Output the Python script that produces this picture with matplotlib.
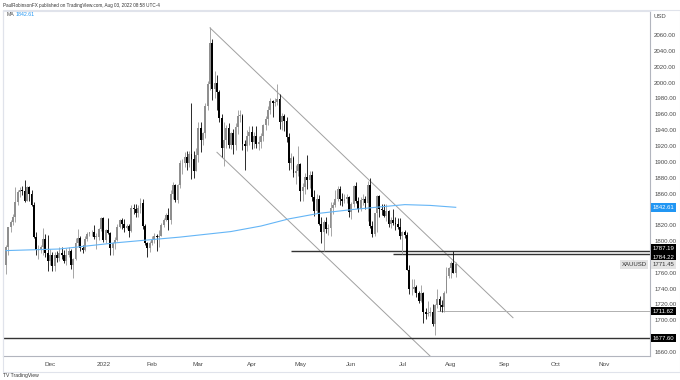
import numpy as np
import pandas as pd
import matplotlib
matplotlib.use("Agg")
import matplotlib.pyplot as plt
from matplotlib.patches import Rectangle

# XAUUSD daily candles (open, high, low, close)
nov21 = [(1770, 1795, 1759, 1792), (1792, 1818, 1782, 1818), (1818, 1827, 1811, 1824),
         (1824, 1834, 1820, 1831), (1831, 1868, 1824, 1849), (1849, 1864, 1845, 1862),
         (1862, 1868, 1855, 1865), (1865, 1870, 1858, 1863), (1863, 1877, 1849, 1851),
         (1851, 1870, 1850, 1868), (1868, 1869, 1851, 1860), (1860, 1864, 1844, 1846),
         (1846, 1849, 1804, 1805), (1805, 1812, 1782, 1789), (1789, 1795, 1778, 1789),
         (1789, 1795, 1785, 1792), (1792, 1816, 1782, 1802), (1802, 1809, 1780, 1785),
         (1785, 1808, 1762, 1775)]
dec21 = [(1775, 1790, 1770, 1782), (1782, 1786, 1762, 1769), (1769, 1786, 1762, 1783),
         (1783, 1788, 1774, 1779), (1779, 1793, 1775, 1785), (1785, 1793, 1777, 1783),
         (1783, 1789, 1772, 1775), (1775, 1791, 1770, 1782), (1782, 1792, 1780, 1787),
         (1787, 1790, 1765, 1770), (1770, 1779, 1753, 1778), (1778, 1804, 1776, 1798),
         (1798, 1815, 1794, 1804), (1804, 1806, 1788, 1791), (1791, 1795, 1785, 1789),
         (1789, 1806, 1787, 1803), (1803, 1812, 1800, 1809), (1809, 1812, 1807, 1811),
         (1811, 1814, 1806, 1811), (1811, 1820, 1803, 1805), (1805, 1810, 1790, 1805),
         (1805, 1817, 1801, 1815), (1815, 1830, 1813, 1829)]
jan22 = [(1829, 1831, 1799, 1801), (1801, 1815, 1798, 1814), (1814, 1829, 1809, 1810),
         (1810, 1811, 1783, 1791), (1791, 1799, 1782, 1797), (1797, 1805, 1790, 1801),
         (1801, 1822, 1800, 1818), (1818, 1828, 1816, 1826), (1826, 1829, 1815, 1821),
         (1821, 1828, 1812, 1817), (1817, 1822, 1815, 1819), (1819, 1822, 1805, 1813),
         (1813, 1845, 1812, 1842), (1842, 1847, 1834, 1840), (1840, 1847, 1831, 1835),
         (1835, 1845, 1830, 1842), (1842, 1854, 1835, 1848), (1848, 1853, 1815, 1819),
         (1819, 1822, 1795, 1797), (1797, 1799, 1780, 1791), (1791, 1800, 1786, 1797)]
feb22 = [(1797, 1807, 1795, 1801), (1801, 1810, 1797, 1807), (1807, 1809, 1788, 1805),
         (1805, 1814, 1793, 1807), (1807, 1823, 1806, 1820), (1820, 1829, 1818, 1826),
         (1826, 1836, 1825, 1833), (1833, 1842, 1814, 1827), (1827, 1865, 1822, 1859),
         (1859, 1874, 1853, 1871), (1871, 1872, 1849, 1852), (1852, 1872, 1848, 1871),
         (1871, 1902, 1867, 1898), (1898, 1903, 1885, 1898), (1898, 1913, 1894, 1906),
         (1906, 1914, 1890, 1898), (1898, 1914, 1893, 1910), (1910, 1974, 1878, 1903),
         (1903, 1914, 1879, 1889), (1889, 1917, 1888, 1909)]
mar22 = [(1909, 1950, 1900, 1943), (1943, 1950, 1913, 1928), (1928, 1937, 1921, 1936),
         (1936, 1974, 1930, 1970), (1970, 2002, 1966, 1998), (1998, 2070, 1990, 2050),
         (2050, 2055, 1978, 1992), (1992, 2015, 1981, 2000), (2000, 2009, 1966, 1988),
         (1988, 1990, 1950, 1955), (1955, 1960, 1906, 1918), (1918, 1950, 1895, 1927),
         (1927, 1947, 1918, 1943), (1943, 1949, 1917, 1921), (1921, 1938, 1916, 1936),
         (1936, 1942, 1910, 1921), (1921, 1949, 1915, 1944), (1944, 1966, 1935, 1958),
         (1958, 1966, 1950, 1958), (1958, 1960, 1915, 1923), (1923, 1927, 1890, 1920),
         (1920, 1940, 1914, 1933), (1933, 1945, 1921, 1937)]
apr22 = [(1937, 1945, 1916, 1925), (1925, 1937, 1917, 1932), (1932, 1945, 1918, 1923),
         (1923, 1933, 1915, 1925), (1925, 1936, 1918, 1932), (1932, 1948, 1926, 1946),
         (1946, 1958, 1940, 1954), (1954, 1971, 1947, 1966), (1966, 1981, 1960, 1977),
         (1977, 1978, 1956, 1974), (1974, 1980, 1970, 1975), (1975, 1998, 1972, 1979),
         (1979, 1986, 1941, 1950), (1950, 1961, 1940, 1958), (1958, 1960, 1939, 1951),
         (1951, 1957, 1925, 1931), (1931, 1936, 1890, 1898), (1898, 1911, 1891, 1905),
         (1905, 1907, 1881, 1886), (1886, 1896, 1872, 1889), (1889, 1920, 1882, 1897)]
may22 = [(1897, 1899, 1850, 1863), (1863, 1873, 1850, 1868), (1868, 1886, 1860, 1881),
         (1881, 1909, 1866, 1877), (1877, 1889, 1867, 1884), (1884, 1888, 1851, 1855),
         (1855, 1865, 1832, 1838), (1838, 1859, 1836, 1853), (1853, 1858, 1820, 1822),
         (1822, 1830, 1798, 1811), (1811, 1827, 1787, 1824), (1824, 1830, 1810, 1815),
         (1815, 1822, 1808, 1816), (1816, 1849, 1807, 1842), (1842, 1849, 1834, 1846),
         (1846, 1865, 1843, 1853), (1853, 1870, 1850, 1866), (1866, 1869, 1845, 1853),
         (1853, 1861, 1844, 1851), (1851, 1860, 1848, 1853), (1853, 1860, 1848, 1855),
         (1855, 1857, 1831, 1837)]
jun22 = [(1837, 1849, 1828, 1847), (1847, 1871, 1843, 1869), (1869, 1874, 1848, 1851),
         (1851, 1855, 1837, 1841), (1841, 1856, 1838, 1852), (1852, 1860, 1846, 1853),
         (1853, 1857, 1841, 1848), (1848, 1876, 1825, 1871), (1871, 1879, 1816, 1819),
         (1819, 1825, 1805, 1809), (1809, 1836, 1807, 1835), (1835, 1858, 1812, 1857),
         (1857, 1858, 1830, 1840), (1840, 1847, 1833, 1839), (1839, 1847, 1830, 1832),
         (1832, 1847, 1825, 1838), (1838, 1839, 1818, 1822), (1822, 1830, 1816, 1827),
         (1827, 1840, 1820, 1823), (1823, 1830, 1814, 1821), (1821, 1829, 1815, 1818),
         (1818, 1829, 1802, 1807)]
jul22 = [(1807, 1813, 1784, 1811), (1811, 1814, 1804, 1808), (1808, 1812, 1763, 1764),
         (1764, 1770, 1733, 1739), (1739, 1752, 1732, 1740), (1740, 1752, 1736, 1742),
         (1742, 1745, 1730, 1734), (1734, 1737, 1722, 1725), (1725, 1745, 1723, 1735),
         (1735, 1736, 1697, 1711), (1711, 1716, 1702, 1708), (1708, 1724, 1706, 1709),
         (1709, 1717, 1705, 1711), (1711, 1721, 1693, 1696), (1696, 1720, 1681, 1719),
         (1719, 1739, 1715, 1727), (1727, 1731, 1712, 1719), (1719, 1726, 1711, 1717),
         (1717, 1737, 1711, 1735), (1735, 1767, 1734, 1756), (1756, 1767, 1753, 1766)]
aug22 = [(1766, 1775, 1754, 1772), (1772, 1788, 1760, 1760), (1760, 1774, 1755, 1771.45)]

# 200-day moving average, read at a few bar positions
ma_bar = [0, 23, 48, 75, 97, 110, 122, 135, 150, 161, 172, 183, 194]
ma_val = [1788, 1790, 1798, 1805, 1812, 1819, 1828, 1835, 1840, 1843, 1846, 1845, 1842.61]

# drawn trendlines (bar index, price)
upper_bar = [88, 218.7]
upper_px = [2069, 1703.3]
lower_bar = [91, 184]
lower_px = [1912, 1652]

# horizontal levels and the bar where each one starts
levels = [1787.19, 1784.22, 1711.62, 1677.60]
level_start = [123, 167, 186, -2]

# price-axis labels that stay visible (the rest sit under the value tags)
yticks = [1660, 1700, 1720, 1740, 1760, 1800, 1820, 1860, 1880, 1900, 1920,
          1940, 1960, 1980, 2000, 2020, 2040, 2060]

bars = nov21 + dec21 + jan22 + feb22 + mar22 + apr22 + may22 + jun22 + jul22 + aug22
o, h, l, c = np.array(bars, dtype=float).T
n = len(bars)
idx = np.arange(n)
dates = pd.bdate_range("2021-11-04", periods=n + 90)

W, H = 680, 380
X0, X1 = -1.3, 277.8
Y0, Y1 = 1655.0, 2090.3

plt.rcParams["font.family"] = ["Liberation Sans", "DejaVu Sans"]
fig = plt.figure(figsize=(W / 100, H / 100), dpi=100)
fig.patch.set_facecolor("white")
ax = fig.add_axes([3 / W, 1 - 356 / H, 647 / W, 345 / H])
ax.set_xlim(X0, X1)
ax.set_ylim(Y0, Y1)

# outer frame of the chart widget
fig.add_artist(Rectangle((3 / W, 1 - 372 / H), 677 / W, 362 / H, transform=fig.transFigure,
                         fill=False, ec="#e0e3eb", lw=0.8))

up = c >= o
down = ~up
ax.vlines(idx[up], l[up], h[up], color="#a0a0a0", lw=0.65, zorder=2)
ax.vlines(idx[down], l[down], h[down], color="#1a1a1a", lw=0.65, zorder=2)
body_lo = np.minimum(o, c)
body_h = np.maximum(np.abs(c - o), 0.9)
ax.bar(idx[up], body_h[up], bottom=body_lo[up], width=0.8, color="#8f8f8f", lw=0, zorder=3)
ax.bar(idx[down], body_h[down], bottom=body_lo[down], width=0.8, color="#000000", lw=0, zorder=3)

ax.plot(ma_bar, ma_val, color="#64b5f6", lw=0.8, zorder=4)

ax.plot(upper_bar, upper_px, color="#a0a0a0", lw=0.7, zorder=1)
ax.plot(lower_bar, lower_px, color="#a0a0a0", lw=0.7, zorder=1)

for lv, st in zip(levels, level_start):
    if lv == 1711.62:
        ax.hlines(lv, st, X1, color="#b0b0b0", lw=0.7, zorder=1)
    else:
        ax.hlines(lv, st, X1, color="#333333", lw=1.0, zorder=1)

# axes styling
for side in ["top", "left"]:
    ax.spines[side].set_color("#e0e3eb")
    ax.spines[side].set_linewidth(0.8)
for side in ["right", "bottom"]:
    ax.spines[side].set_color("#b2b5be")
    ax.spines[side].set_linewidth(0.8)

ax.yaxis.tick_right()
ax.set_yticks(yticks)
ax.set_yticklabels([f"{v:.2f}" for v in yticks])
ax.tick_params(axis="y", length=0, pad=3, labelsize=4.4, labelcolor="#4a4a4a")

month_first = pd.Series(np.arange(len(dates)), index=dates).groupby(
    [dates.year, dates.month]).first()
xt, xl = [], []
for (yr, mo), i in list(month_first.items())[1:]:
    if i > X1:
        break
    xt.append(i)
    xl.append(str(yr) if mo == 1 else pd.Timestamp(yr, mo, 1).strftime("%b"))
ax.set_xticks(xt)
ax.set_xticklabels(xl)
ax.tick_params(axis="x", length=0, pad=4, labelsize=4.6, labelcolor="#4a4a4a")


def axis_tag(price, text, fc, tc, dy=0):
    ax.annotate(text, xy=(1, price), xycoords=("axes fraction", "data"),
                xytext=(2.0, dy), textcoords="offset points", ha="left", va="center",
                fontsize=4.3, color=tc, zorder=10, annotation_clip=False,
                bbox=dict(boxstyle="square,pad=0.3", fc=fc, ec="none"))


axis_tag(ma_val[-1], f"{ma_val[-1]:.2f}", "#2196f3", "white")
axis_tag(levels[0], "1787.19", "black", "white", dy=2.0)
axis_tag(levels[1], "1784.22", "black", "white", dy=-2.8)
axis_tag(c[-1], "1771.45", "#e3e3e3", "#333333", dy=-0.5)
axis_tag(levels[2], "1711.62", "black", "white")
axis_tag(levels[3], "1677.60", "black", "white")
ax.annotate("XAUUSD", xy=(1, c[-1]), xycoords=("axes fraction", "data"),
            xytext=(-2.5, -0.5), textcoords="offset points", ha="right", va="center",
            fontsize=4.3, color="#333333", zorder=10,
            bbox=dict(boxstyle="square,pad=0.3", fc="#e3e3e3", ec="none"))

fig.text(654 / W, 1 - 16 / H, "USD", fontsize=4.3, color="#4a4a4a", va="center")
fig.text(3 / W, 1 - 5 / H, "PaulRobinsonFX published on TradingView.com, Aug 03, 2022 08:58 UTC-4",
         fontsize=3.3, color="#333333", va="center")
fig.text(7 / W, 1 - 15 / H, "MA", fontsize=3.8, color="#4a4a4a", va="center")
fig.text(16 / W, 1 - 15 / H, f"{ma_val[-1]:.2f}", fontsize=3.8, color="#2196f3", va="center")
fig.text(3 / W, 1 - 376 / H, "TV TradingView", fontsize=3.6, color="#333333", va="center")

fig.savefig("out.png", dpi=100, facecolor="white")
